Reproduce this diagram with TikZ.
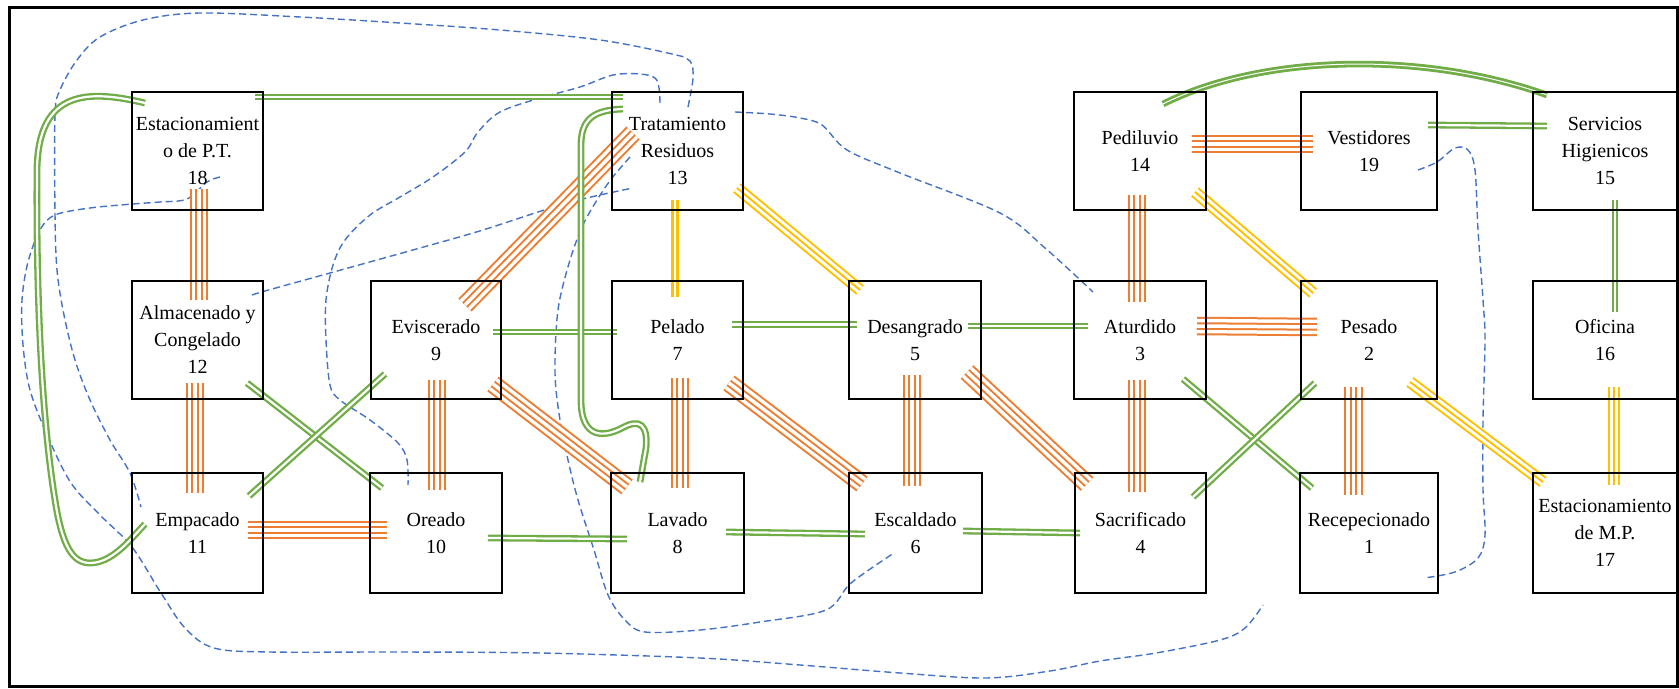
\documentclass[tikz,border=0pt]{standalone}
\usepackage{fontspec}
\setmainfont{Liberation Serif}
\usetikzlibrary{calc}
\pgfdeclarelayer{bgA}
\pgfdeclarelayer{bgB}
\pgfsetlayers{bgA,bgB,main}
\definecolor{cgreen}{HTML}{70AD47}
\definecolor{corange}{HTML}{ED7D31}
\definecolor{cyellow}{HTML}{FFC000}
\definecolor{cblue}{HTML}{4472C4}
\tikzset{
  bx/.style={draw=black, line width=1.25pt, inner sep=0pt, align=center, text=black,
    font=\fontsize{10pt}{13.5pt}\selectfont},
  quadO/.style={preaction={draw=corange, line width=9.25pt},
    preaction={draw=white, line width=7.25pt},
    preaction={draw=corange, line width=3.75pt},
    draw=white, line width=1.75pt},
  triY/.style={preaction={draw=cyellow, line width=6pt},
    preaction={draw=white, line width=4pt},
    draw=cyellow, line width=1pt},
  dblG/.style={draw=cgreen, double=white, line width=1.15pt, double distance=1.1pt},
  arcG/.style={draw=cgreen, double=white, line width=1.4pt, double distance=0.5pt},
  dblY/.style={draw=cyellow, double=white, line width=1.7pt, double distance=0.6pt},
  dsh/.style={draw=cblue, line width=0.7pt, dash pattern=on 3.5pt off 2pt, line cap=butt}
}
\begin{document}
\begin{tikzpicture}[x=0.5pt,y=-0.5pt]
\useasboundingbox (0,0) rectangle (1679,689);
% boxes
\node[bx, minimum width=65.5pt, minimum height=59pt] (n18) at (197.5,151) {Estacionamient\\o de P.T.\\18};
\node[bx, minimum width=65.5pt, minimum height=59pt] (n13) at (677.5,151) {Tratamiento\\Residuos\\13};
\node[bx, minimum width=66pt, minimum height=59pt] (n14) at (1140,151) {Pediluvio\\14};
\node[bx, minimum width=68pt, minimum height=59pt] (n19) at (1369,151) {Vestidores\\19};
\node[bx, minimum width=72pt, minimum height=59pt] (n15) at (1605,151) {Servicios\\Higienicos\\15};
\node[bx, minimum width=65.5pt, minimum height=59pt] (n12) at (197.5,340) {Almacenado y\\Congelado\\12};
\node[bx, minimum width=65pt, minimum height=59pt] (n9) at (436,340) {Eviscerado\\9};
\node[bx, minimum width=65.5pt, minimum height=59pt] (n7) at (677.5,340) {Pelado\\7};
\node[bx, minimum width=66pt, minimum height=59pt] (n5) at (915,340) {Desangrado\\5};
\node[bx, minimum width=66pt, minimum height=59pt] (n3) at (1140,340) {Aturdido\\3};
\node[bx, minimum width=68pt, minimum height=59pt] (n2) at (1369,340) {Pesado\\2};
\node[bx, minimum width=72pt, minimum height=59pt] (n16) at (1605,340) {Oficina\\16};
\node[bx, minimum width=65.5pt, minimum height=60pt] (n11) at (197.5,533) {Empacado\\11};
\node[bx, minimum width=66pt, minimum height=60pt] (n10) at (436,533) {Oreado\\10};
\node[bx, minimum width=66.5pt, minimum height=60pt] (n8) at (677.5,533) {Lavado\\8};
\node[bx, minimum width=66.5pt, minimum height=60pt] (n6) at (915.5,533) {Escaldado\\6};
\node[bx, minimum width=65.5pt, minimum height=60pt] (n4) at (1140.5,533) {Sacrificado\\4};
\node[bx, minimum width=69pt, minimum height=60pt] (n1) at (1369,533) {Recepecionado\\1};
\node[bx, minimum width=72pt, minimum height=60pt] (n17) at (1605,533) {Estacionamiento\\de M.P.\\17};
% frame
\draw[line width=1.5pt] (9.5,7.5) rectangle (1677.5,686.5);

\begin{pgfonlayer}{bgA}
\coordinate (d1a) at ($(n13)+(10.5,-44)$);
\coordinate (d1b) at ($(n11)+(-56.5,-26)$);
\draw[dsh] plot[smooth, tension=0.55] coordinates {(d1a) (693,78) (690,61) (672,54) (600,40) (500,30) (400,23) (300,17) (200,13) (143,20) (100,37) (77,60) (60,90) (55,115) (55,213) (57,270) (64,315) (75,360) (90,400) (110,440) (130,473) (d1b)};
\coordinate (d2a) at ($(n18)+(22.5,26)$);
\coordinate (d2b) at (1263,605);
\draw[dsh] plot[smooth, tension=0.55] coordinates {(d2a) (207,182) (187,199) (160,202) (133,204) (90,208) (55,215) (40,230) (28,262) (22,300) (23,345) (30,390) (48,437) (71,483) (100,515) (132,547) (161,593) (185,628) (214,648) (270,652) (400,652) (540,653) (700,658) (800,665) (900,673) (986,678) (1050,671) (1100,661) (1156,653) (1220,640) (1245,628) (d2b)};
\coordinate (d3a) at ($(n12)+(54.5,-45)$);
\coordinate (d3b) at ($(n13)+(-44.5,37)$);
\draw[dsh] plot[smooth, tension=0.55] coordinates {(d3a) (265,291) (330,273) (420,248) (483,230) (567,203) (d3b)};
\coordinate (d4a) at ($(n13)+(57.5,-39)$);
\coordinate (d4b) at ($(n3)+(-47,-48)$);
\draw[dsh] plot[smooth, tension=0.55] coordinates {(d4a) (770,114) (800,118) (822,125) (847,150) (900,173) (1000,213) (1045,248) (d4b)};
\coordinate (d5a) at ($(n13)+(-17.5,-48)$);
\coordinate (d5b) at ($(n10)+(-28,-48)$);
\draw[dsh] plot[smooth, tension=0.55] coordinates {(d5a) (659,88) (655,78) (640,74) (613,75) (580,87) (540,98) (500,112) (478,132) (465,152) (433,177) (400,197) (370,215) (345,240) (333,265) (326,300) (326,340) (330,385) (340,400) (370,420) (398,443) (407,460) (d5b)};
\coordinate (d5c) at ($(n13)+(-47.5,6)$);
\coordinate (d5d) at ($(n6)+(-21.5,20)$);
\draw[dsh] plot[smooth, tension=0.55] coordinates {(d5c) (612,178) (597,200) (583,225) (570,260) (558,310) (555,373) (560,420) (568,460) (578,500) (594,550) (608,595) (625,620) (645,632) (700,630) (760,622) (826,610) (851,583) (d5d)};
\coordinate (d6a) at ($(n19)+(49,19)$);
\coordinate (d6b) at ($(n1)+(55,45)$);
\draw[dsh] plot[smooth, tension=0.55] coordinates {(d6a) (1437,162) (1455,148) (1468,150) (1475,170) (1478,230) (1483,300) (1485,340) (1483,420) (1483,490) (1485,535) (1478,558) (1455,572) (d6b)};
\end{pgfonlayer}

\begin{pgfonlayer}{bgB}
% orange (4 lines)
\draw[quadO] ($(n18)+(1.5,38)$) -- ($(n12)+(1.5,-40)$);
\draw[quadO] ($(n12)+(-2.5,43)$) -- ($(n11)+(-2.5,-40)$);
\draw[quadO] ($(n9)+(1,40)$) -- ($(n10)+(1,-43)$);
\draw[quadO] ($(n11)+(50.5,-3)$) -- ($(n10)+(-49,-3)$);
\draw[quadO] ($(n13)+(-44.5,-18)$) -- ($(n9)+(29,-35)$);
\draw[quadO] ($(n9)+(57,44)$) -- ($(n8)+(-50.5,-46)$);
\draw[quadO] ($(n7)+(2.5,38)$) -- ($(n8)+(2.5,-45)$);
\draw[quadO] ($(n7)+(51.5,43)$) -- ($(n6)+(-53.5,-49)$);
\draw[quadO] ($(n5)+(-3,35)$) -- ($(n6)+(-3.5,-47)$);
\draw[quadO] ($(n5)+(52,32)$) -- ($(n4)+(-53.5,-49)$);
\draw[quadO] ($(n3)+(-3,40)$) -- ($(n4)+(-3.5,-41)$);
\draw[quadO] ($(n14)+(-3,44)$) -- ($(n3)+(-3,-38)$);
\draw[quadO] ($(n14)+(52,-7)$) -- ($(n19)+(-56,-7)$);
\draw[quadO] ($(n3)+(57,-14)$) -- ($(n2)+(-52,-13)$);
\draw[quadO] ($(n2)+(-15.5,47)$) -- ($(n1)+(-15.5,-38)$);
% green (2 lines)
\draw[dblG] ($(n18)+(57.5,-54)$) -- ($(n13)+(-54.5,-54)$);
\draw[dblG] ($(n9)+(57,-8)$) -- ($(n7)+(-60.5,-8)$);
\draw[dblG] ($(n7)+(54.5,-15.5)$) -- ($(n5)+(-58,-15.5)$);
\draw[dblG] ($(n5)+(53,-14)$) -- ($(n3)+(-52,-14)$);
\draw[dblG] ($(n10)+(52,5)$) -- ($(n8)+(-50.5,6)$);
\draw[dblG] ($(n8)+(48.5,-1)$) -- ($(n6)+(-50.5,1)$);
\draw[dblG] ($(n6)+(47.5,-2)$) -- ($(n4)+(-60.5,0)$);
\draw[dblG] ($(n12)+(49.5,43)$) -- ($(n10)+(-54,-45)$);
\draw[dblG] ($(n11)+(51.5,-37)$) -- ($(n9)+(-51,34)$);
\draw[dblG] ($(n3)+(43,39)$) -- ($(n1)+(-57,-45)$);
\draw[dblG] ($(n4)+(52.5,-36)$) -- ($(n2)+(-54,43)$);
\draw[dblG] ($(n19)+(59,-26)$) -- ($(n15)+(-58,-25)$);
\draw[dblG] ($(n15)+(10,49)$) -- ($(n16)+(10,-28)$);
\draw[arcG] ($(n14)+(23,-47)$) .. controls (1260,55) and (1420,50) .. ($(n15)+(-58,-56)$);
\draw[dblG] ($(n13)+(-54.5,-42)$) .. controls (595,110) and (581,118) .. (581,145) -- (581,400)
  .. controls (581,440) and (605,437) .. (622,428) .. controls (640,418) and (648,425) .. (646,448)
  -- ($(n8)+(-37.5,-51)$);
\draw[dblG] ($(n18)+(-52.5,-48)$) .. controls (90,90) and (38,88) .. (37,170)
  .. controls (36,300) and (42,420) .. (55,500) .. controls (62,545) and (72,563) .. (90,563)
  .. controls (112,563) and (130,540) .. ($(n11)+(-52.5,-9)$);
% yellow
\draw[triY] ($(n13)+(59.5,37)$) -- ($(n5)+(-55,-50)$);
\draw[triY] ($(n14)+(55,41)$) -- ($(n2)+(-56,-47)$);
\draw[triY] ($(n2)+(41,42)$) -- ($(n17)+(-62,-51)$);
\draw[triY] ($(n16)+(8.5,47)$) -- ($(n17)+(8.5,-48)$);
\draw[dblY] ($(n13)+(-2.5,49)$) -- ($(n7)+(-2.5,-43)$);
\end{pgfonlayer}
\end{tikzpicture}
\end{document}
